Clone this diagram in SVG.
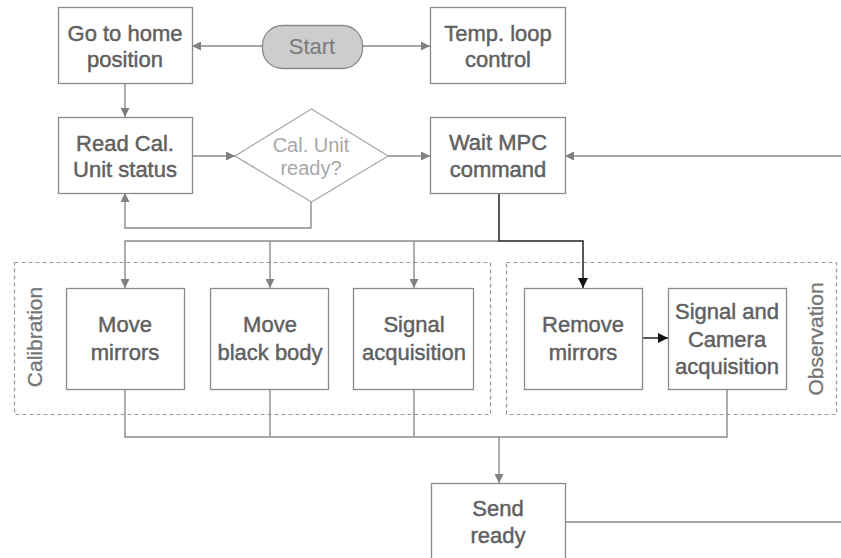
<svg xmlns="http://www.w3.org/2000/svg" width="841" height="558" viewBox="0 0 841 558">
<defs>
<style>
.box{fill:#fff;stroke:#8a8a8a;stroke-width:1.3}
.t{font-family:"Liberation Sans",Arial,sans-serif;font-size:22px;fill:#606060;stroke:#606060;stroke-width:0.45;text-anchor:middle}
.dt{font-family:"Liberation Sans",Arial,sans-serif;font-size:20px;fill:#a8a8a8;text-anchor:middle}
.st{font-family:"Liberation Sans",Arial,sans-serif;font-size:22px;fill:#7a7a7a;text-anchor:middle}
.grp{fill:none;stroke:#9a9a9a;stroke-width:1.2;stroke-dasharray:4 3}
.gl{font-family:"Liberation Sans",Arial,sans-serif;font-size:21px;fill:#757575;stroke:#757575;stroke-width:0.3;text-anchor:middle}
.c{fill:none;stroke:#8a8a8a;stroke-width:1.4}
.cd{fill:none;stroke:#222;stroke-width:1.5}
</style>
<marker id="ag" viewBox="0 0 10 10" refX="10" refY="5" markerWidth="10" markerHeight="9" orient="auto" markerUnits="userSpaceOnUse"><path d="M0,0 L10,5 L0,10 z" fill="#808080"/></marker>
<marker id="ab" viewBox="0 0 10 10" refX="10" refY="5" markerWidth="11" markerHeight="10" orient="auto" markerUnits="userSpaceOnUse"><path d="M0,0 L10,5 L0,10 z" fill="#111"/></marker>
</defs>
<rect width="841" height="558" fill="#fff"/>

<g id="group-calibration">
<rect class="grp" x="14.5" y="262.5" width="476" height="152"/>
<text class="gl" transform="translate(42,337) rotate(-90)">Calibration</text>
</g>
<g id="group-observation">
<rect class="grp" x="506.5" y="262.5" width="330" height="152"/>
<text class="gl" transform="translate(823,339) rotate(-90)">Observation</text>
</g>

<g id="connectors">
<path class="c" d="M262,46 L192,46" marker-end="url(#ag)"/>
<path class="c" d="M362,46 L430,46" marker-end="url(#ag)"/>
<path class="c" d="M125,83 L125,117" marker-end="url(#ag)"/>
<path class="c" d="M192,156 L235,156" marker-end="url(#ag)"/>
<path class="c" d="M388,156 L430,156" marker-end="url(#ag)"/>
<path class="c" d="M311,202 L311,228 L125,228 L125,193" marker-end="url(#ag)"/>
<path class="c" d="M841,156 L565,156" marker-end="url(#ag)"/>
<path class="c" d="M499,241 L125,241 L125,288" marker-end="url(#ag)"/>
<path class="c" d="M270,241 L270,288" marker-end="url(#ag)"/>
<path class="c" d="M414,241 L414,288" marker-end="url(#ag)"/>
<path class="cd" d="M499,193 L499,241 L583,241 L583,288" marker-end="url(#ab)"/>
<path class="cd" d="M642,338 L668,338" marker-end="url(#ab)"/>
<path class="c" d="M125,389 L125,437 L727,437 L727,389"/>
<path class="c" d="M270,389 L270,437"/>
<path class="c" d="M414,389 L414,437"/>
<path class="c" d="M499,437 L499,483" marker-end="url(#ag)"/>
<path class="c" d="M565,522 L841,522"/>
</g>

<g id="start">
<rect x="262.5" y="25.5" width="100" height="43" rx="20" ry="20" fill="#cdcdcd" stroke="#8a8a8a" stroke-width="1.3"/>
<text class="st" x="312" y="54">Start</text>
</g>
<g id="go-home">
<rect class="box" x="58.5" y="7.5" width="134" height="76"/>
<text class="t" x="125" y="41">Go to home</text>
<text class="t" x="125" y="67">position</text>
</g>
<g id="temp-loop">
<rect class="box" x="430.5" y="7.5" width="135" height="76"/>
<text class="t" x="498" y="41">Temp. loop</text>
<text class="t" x="498" y="67">control</text>
</g>
<g id="read-cal">
<rect class="box" x="58.5" y="117.5" width="134" height="76"/>
<text class="t" x="125" y="151">Read Cal.</text>
<text class="t" x="125" y="177">Unit status</text>
</g>
<g id="cal-ready">
<path d="M235,156 L311.5,109 L388,156 L311.5,202 Z" fill="#fff" stroke="#aaaaaa" stroke-width="1.3"/>
<text class="dt" x="311" y="152">Cal. Unit</text>
<text class="dt" x="311" y="175">ready?</text>
</g>
<g id="wait-mpc">
<rect class="box" x="430.5" y="117.5" width="135" height="76"/>
<text class="t" x="498" y="150">Wait MPC</text>
<text class="t" x="498" y="177">command</text>
</g>
<g id="move-mirrors">
<rect class="box" x="66.5" y="288.5" width="118" height="101"/>
<text class="t" x="125" y="332">Move</text>
<text class="t" x="125" y="360">mirrors</text>
</g>
<g id="move-black-body">
<rect class="box" x="210.5" y="288.5" width="118" height="101"/>
<text class="t" x="270" y="332">Move</text>
<text class="t" x="270" y="360">black body</text>
</g>
<g id="signal-acquisition">
<rect class="box" x="353.5" y="288.5" width="120" height="101"/>
<text class="t" x="414" y="332">Signal</text>
<text class="t" x="414" y="360">acquisition</text>
</g>
<g id="remove-mirrors">
<rect class="box" x="524.5" y="288.5" width="118" height="101"/>
<text class="t" x="583" y="332">Remove</text>
<text class="t" x="583" y="360">mirrors</text>
</g>
<g id="signal-camera">
<rect class="box" x="668.5" y="288.5" width="118" height="101"/>
<text class="t" x="727" y="319">Signal and</text>
<text class="t" x="727" y="347">Camera</text>
<text class="t" x="727" y="374">acquisition</text>
</g>
<g id="send-ready">
<rect class="box" x="431.5" y="483.5" width="134" height="90"/>
<text class="t" x="498" y="516">Send</text>
<text class="t" x="498" y="543">ready</text>
</g>
</svg>
